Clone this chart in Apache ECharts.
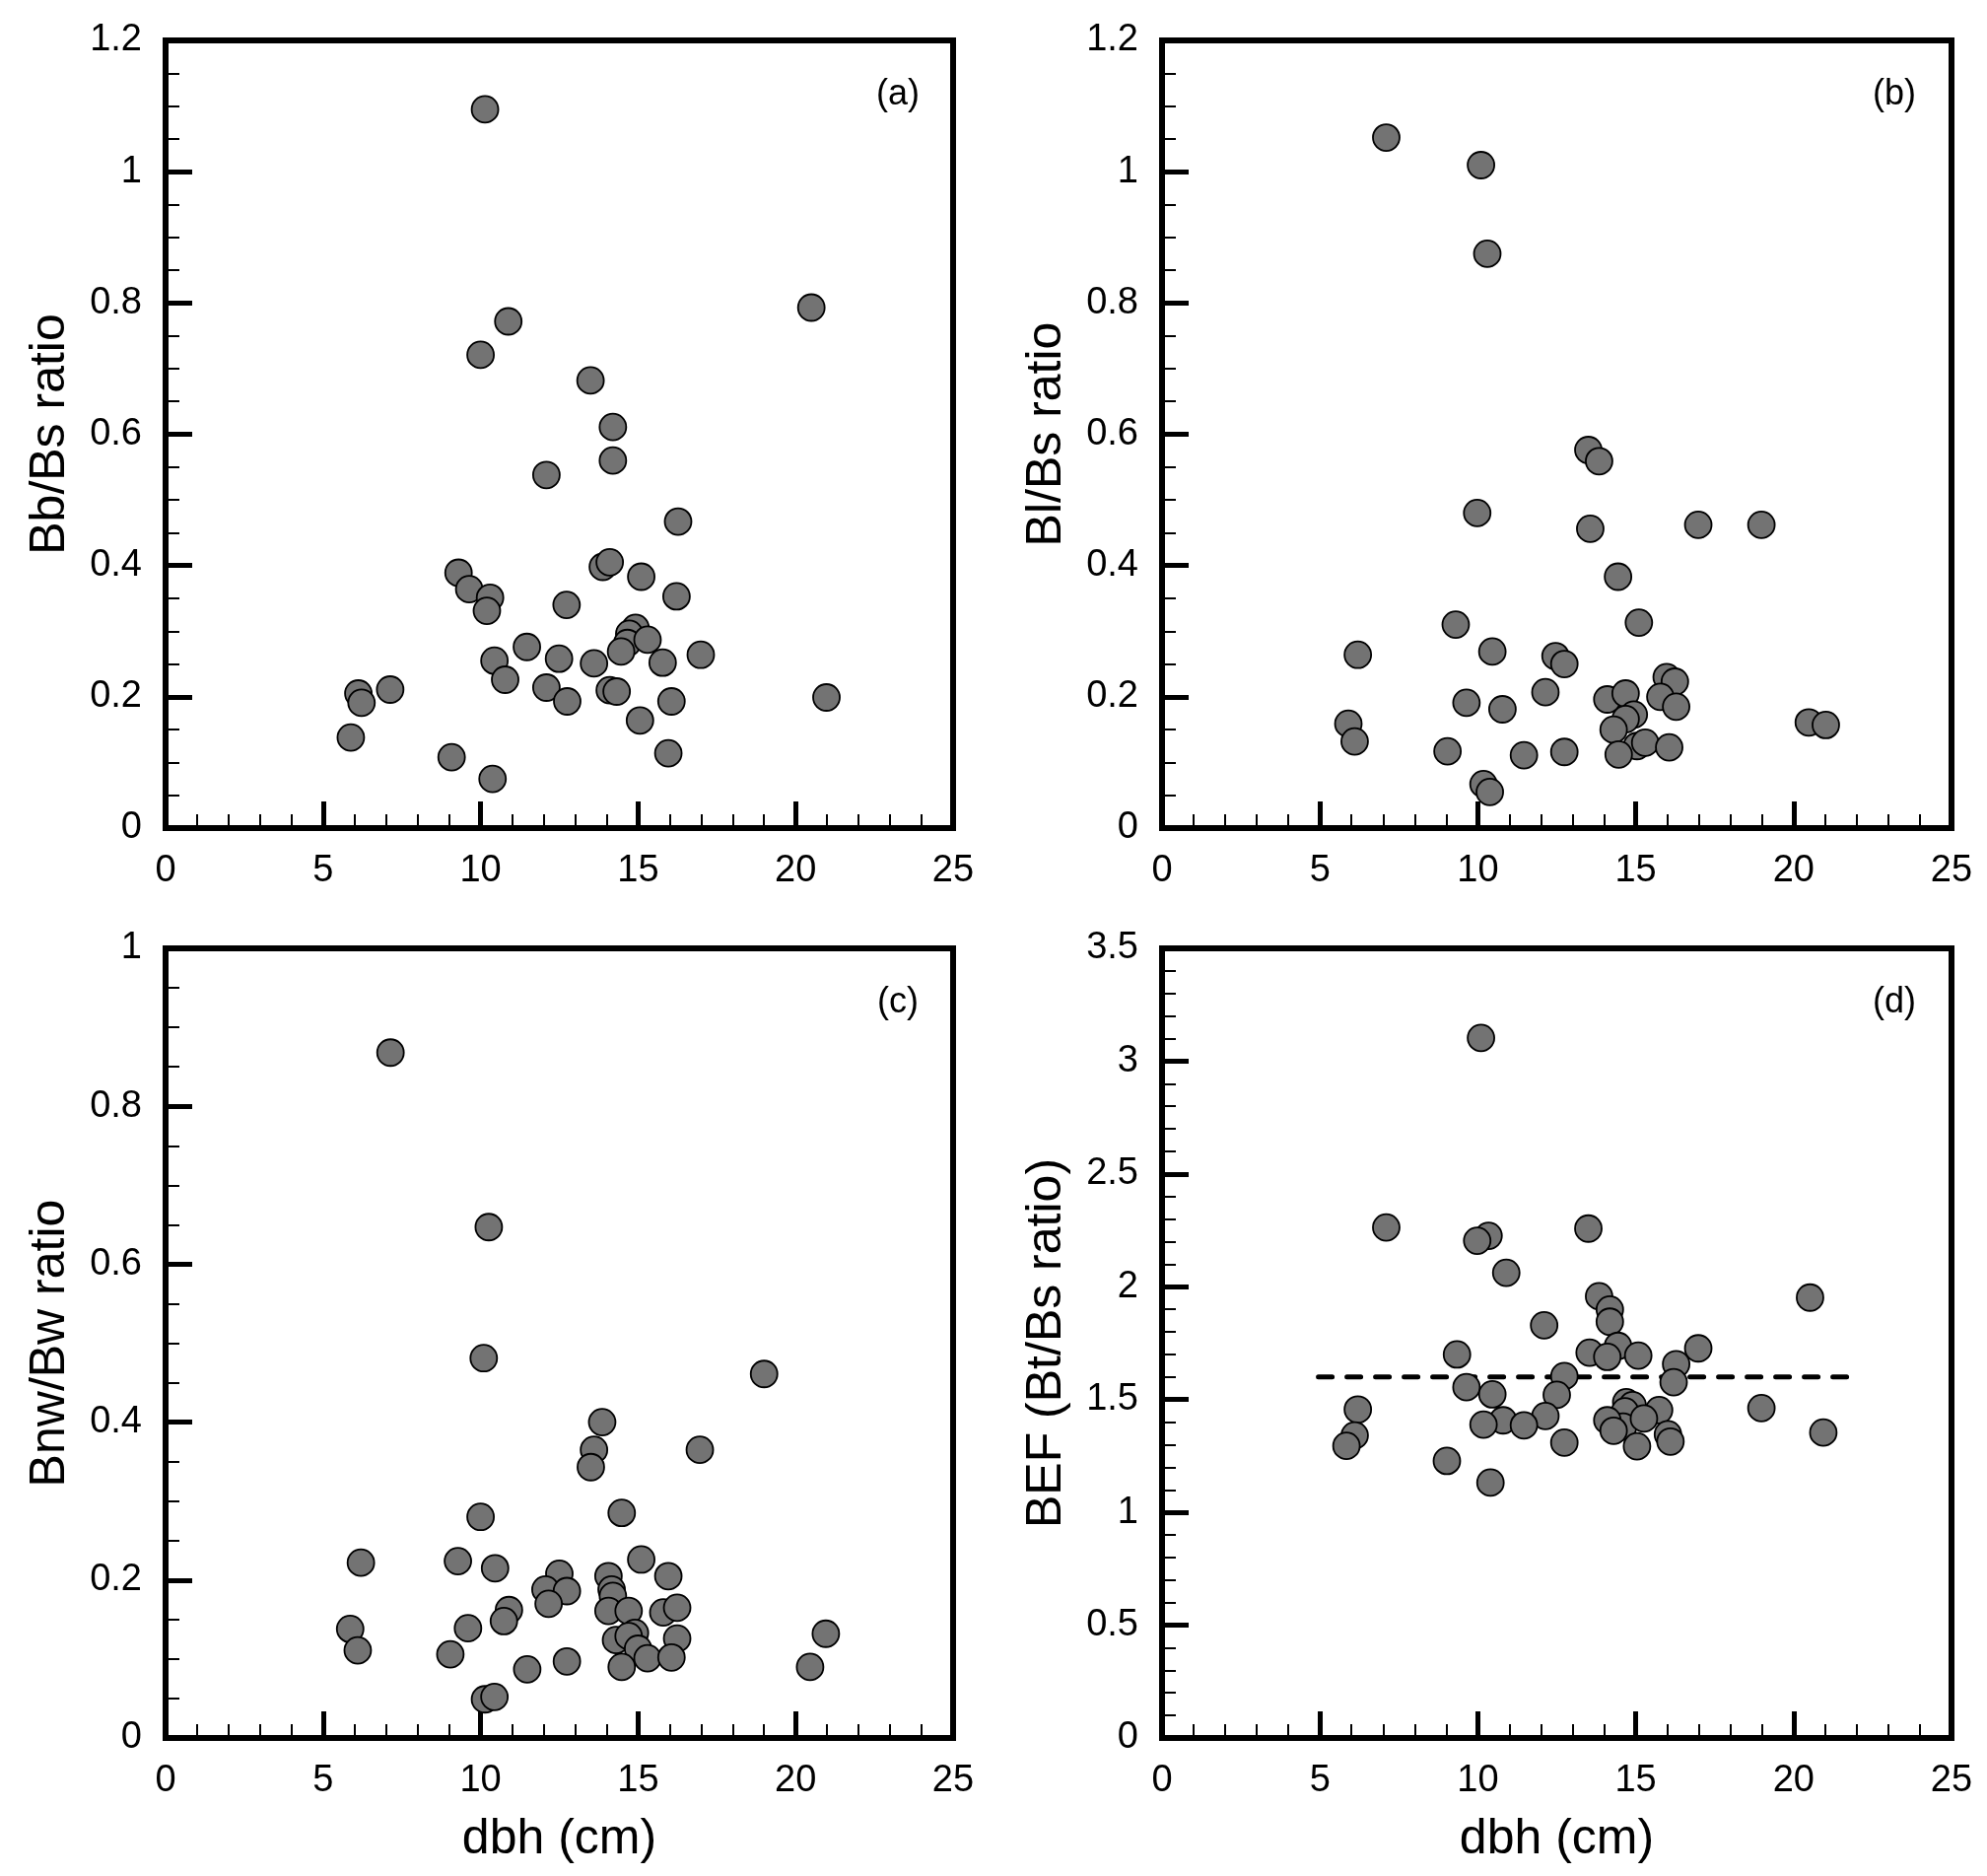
<!DOCTYPE html>
<html>
<head>
<meta charset="utf-8">
<script src="https://cdn.jsdelivr.net/npm/echarts@6/dist/echarts.min.js"></script>
<style>
  html, body { margin: 0; padding: 0; background: #fff; }
  #main { width: 2016px; height: 1903px; }
</style>
</head>
<body>
<div id="main"></div>
<script>
// ---- data: [dbh (cm), ratio] ----
var pointsA = [
  [10.14, 1.095], [20.5, 0.793], [10.88, 0.772], [10.0, 0.721], [13.49, 0.682],
  [14.2, 0.611], [14.2, 0.560], [12.09, 0.538], [16.27, 0.467], [9.30, 0.389],
  [9.64, 0.364], [10.3, 0.351], [10.2, 0.331], [13.88, 0.398], [14.1, 0.405],
  [15.1, 0.383], [12.73, 0.340], [16.22, 0.353], [14.92, 0.305], [14.72, 0.296],
  [14.66, 0.282], [14.46, 0.269], [15.3, 0.287], [16.99, 0.264], [15.78, 0.252],
  [11.47, 0.276], [12.49, 0.258], [13.6, 0.251], [10.44, 0.255], [10.78, 0.226],
  [12.09, 0.214], [12.75, 0.193], [14.1, 0.210], [14.32, 0.208], [16.06, 0.193],
  [20.98, 0.199], [15.06, 0.164], [15.96, 0.114], [6.12, 0.205], [6.22, 0.191],
  [7.13, 0.211], [5.88, 0.138], [9.08, 0.108], [10.38, 0.075]
];
var pointsB = [
  [7.1, 1.052], [10.1, 1.010], [10.3, 0.875], [13.5, 0.576], [13.84, 0.559],
  [9.98, 0.480], [13.56, 0.456], [16.98, 0.462], [18.98, 0.462], [14.44, 0.383],
  [15.1, 0.313], [9.3, 0.310], [6.2, 0.264], [10.46, 0.269], [12.46, 0.262],
  [12.74, 0.250], [12.14, 0.207], [9.64, 0.191], [10.78, 0.181], [14.1, 0.196],
  [14.68, 0.205], [15.98, 0.230], [16.24, 0.223], [15.78, 0.200], [16.28, 0.185],
  [14.94, 0.173], [14.68, 0.166], [14.3, 0.150], [15.04, 0.125], [15.3, 0.130],
  [14.46, 0.112], [16.06, 0.123], [12.74, 0.116], [11.46, 0.111], [9.04, 0.117],
  [5.9, 0.159], [6.1, 0.132], [20.48, 0.161], [21.02, 0.157], [10.18, 0.067],
  [10.38, 0.055]
];
var pointsC = [
  [7.14, 0.868], [10.26, 0.647], [10.1, 0.481], [19.0, 0.461], [13.86, 0.400],
  [13.6, 0.365], [16.96, 0.365], [13.5, 0.343], [14.48, 0.285], [10.0, 0.280],
  [6.2, 0.222], [9.28, 0.224], [10.46, 0.215], [15.1, 0.226], [12.5, 0.208],
  [14.06, 0.205], [15.96, 0.205], [12.06, 0.188], [12.74, 0.186], [14.16, 0.188],
  [14.2, 0.180], [12.16, 0.170], [10.9, 0.162], [10.74, 0.148], [14.06, 0.161],
  [14.7, 0.161], [15.8, 0.159], [16.24, 0.165], [9.6, 0.139], [5.86, 0.138],
  [6.1, 0.111], [14.3, 0.124], [14.9, 0.133], [14.7, 0.129], [16.24, 0.126],
  [15.0, 0.113], [15.3, 0.101], [16.06, 0.102], [20.96, 0.132], [20.46, 0.090],
  [9.04, 0.106], [12.74, 0.097], [11.48, 0.087], [14.48, 0.090], [10.14, 0.049],
  [10.44, 0.052]
];
var pointsD = [
  [10.1, 3.103], [7.1, 2.263], [13.5, 2.258], [10.34, 2.226], [9.98, 2.204],
  [10.9, 2.062], [20.52, 1.952], [13.84, 1.958], [14.18, 1.899], [14.18, 1.845],
  [12.1, 1.829], [14.44, 1.738], [13.54, 1.708], [14.1, 1.689], [15.08, 1.695],
  [16.98, 1.727], [16.28, 1.657], [9.34, 1.700], [16.2, 1.577], [12.74, 1.604],
  [9.64, 1.555], [10.46, 1.523], [12.5, 1.521], [6.2, 1.456], [18.98, 1.462],
  [14.7, 1.488], [14.9, 1.475], [14.66, 1.448], [14.6, 1.380], [15.74, 1.453],
  [12.14, 1.427], [15.26, 1.416], [10.8, 1.408], [10.18, 1.389], [11.46, 1.386],
  [14.1, 1.408], [14.3, 1.362], [16.02, 1.346], [16.1, 1.314], [20.94, 1.354],
  [12.74, 1.309], [15.04, 1.293], [6.1, 1.341], [5.84, 1.295], [9.02, 1.228],
  [10.4, 1.132]
];
// mean BEF line
var befMean = [[4.95, 1.6], [21.75, 1.6]];

var panelNames = ['Bb/Bs ratio', 'Bl/Bs ratio', 'Bnw/Bw ratio', 'BEF (Bt/Bs ratio)'];
var panelTags = ['(a)', '(b)', '(c)', '(d)'];
var yMax = [1.2, 1.2, 1, 3.5];
var yStep = [0.2, 0.2, 0.2, 0.5];
var yMinorSplit = [4, 4, 4, 5];

var FONT = "'Liberation Sans', Arial, Helvetica, sans-serif";
var grids = [
  {left: 168, top: 41, width: 799, height: 799},
  {left: 1179, top: 41, width: 801, height: 799},
  {left: 168, top: 962, width: 799, height: 801},
  {left: 1179, top: 962, width: 801, height: 801}
];

var chart = echarts.init(document.getElementById('main'), null, {renderer: 'canvas'});

var xAxes = [], yAxes = [], series = [], graphics = [];
var allPoints = [pointsA, pointsB, pointsC, pointsD];
for (var i = 0; i < 4; i++) {
  var g = grids[i];
  g.show = true;
  g.borderColor = '#000';
  g.borderWidth = 6;
  g.backgroundColor = 'transparent';
  g.containLabel = false;
  g.outerBoundsMode = 'none';

  xAxes.push({
    type: 'value', gridIndex: i, min: 0, max: 25, interval: 5,
    name: i >= 2 ? 'dbh (cm)' : '',
    nameLocation: 'middle', nameGap: 78,
    nameTextStyle: {fontSize: 50, color: '#000', fontFamily: FONT},
    axisLine: {show: false},
    axisTick: {show: true, inside: true, length: 27, lineStyle: {color: '#000', width: 5}},
    minorTick: {show: true, splitNumber: 5, length: 14, lineStyle: {color: '#000', width: 2}},
    splitLine: {show: false},
    axisLabel: {fontSize: 38, color: '#000', fontFamily: FONT, margin: 25}
  });
  yAxes.push({
    type: 'value', gridIndex: i, min: 0, max: yMax[i], interval: yStep[i],
    name: panelNames[i],
    nameLocation: 'middle', nameGap: 92, nameRotate: 90,
    nameTextStyle: {fontSize: 50, color: '#000', fontFamily: FONT},
    axisLine: {show: false},
    axisTick: {show: true, inside: true, length: 27, lineStyle: {color: '#000', width: 5}},
    minorTick: {show: true, splitNumber: yMinorSplit[i], length: 14, lineStyle: {color: '#000', width: 2}},
    splitLine: {show: false},
    axisLabel: {fontSize: 38, color: '#000', fontFamily: FONT, margin: 24}
  });
  series.push({
    type: 'scatter', xAxisIndex: i, yAxisIndex: i, z: 3,
    symbol: 'circle', symbolSize: 27,
    itemStyle: {color: '#737373', borderColor: '#000', borderWidth: 1.8, opacity: 1},
    emphasis: {disabled: true},
    data: allPoints[i]
  });
  graphics.push({
    type: 'text',
    x: g.left + 743, y: g.top + 55,
    style: {text: panelTags[i], fontSize: 36, fontFamily: FONT, fill: '#000',
            textAlign: 'center', textVerticalAlign: 'middle'}
  });
}
series.push({
  type: 'line', xAxisIndex: 3, yAxisIndex: 3, z: 2,
  symbol: 'none', silent: true,
  lineStyle: {color: '#000', width: 5, type: [14, 15], cap: 'round'},
  data: befMean
});

chart.setOption({
  backgroundColor: '#FFFFFF',
  animation: false,
  textStyle: {fontFamily: FONT},
  grid: grids,
  xAxis: xAxes,
  yAxis: yAxes,
  series: series,
  graphic: graphics
});
</script>
</body>
</html>
